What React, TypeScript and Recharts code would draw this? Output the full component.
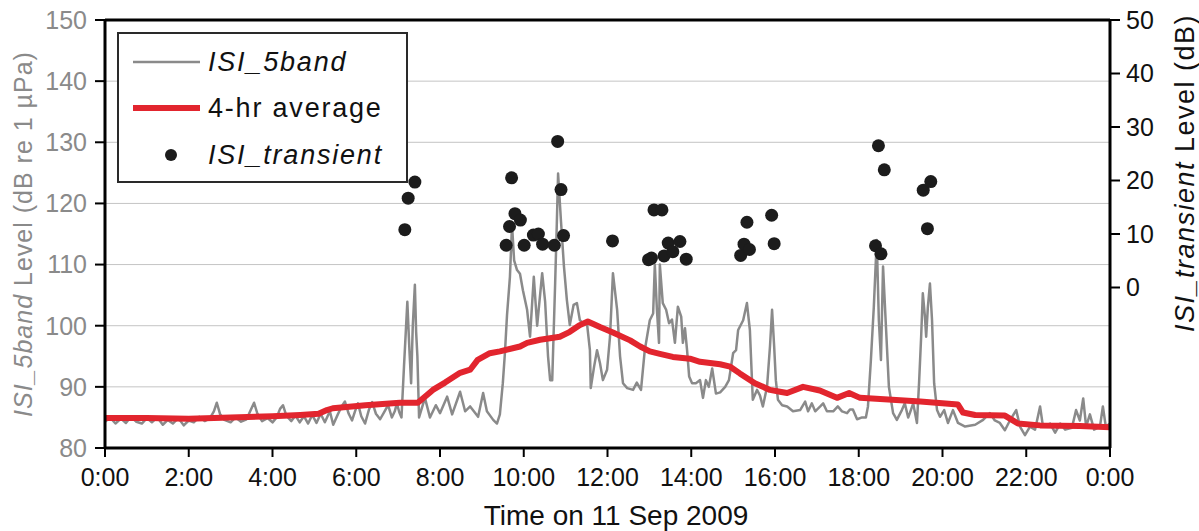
import React from 'react';
import {
  ComposedChart,
  Line,
  Scatter,
  XAxis,
  YAxis,
  CartesianGrid,
  ReferenceLine,
  Legend,
  Label,
} from 'recharts';

const FONT = '"Liberation Sans", Arial, Helvetica, sans-serif';
const GRAY = '#8a8a8a';
const RED = '#e2252e';
const DOT = '#1c1c1c';

// ISI_5band level (dB re 1 µPa) over the day, hours since midnight
const bandHours = [
  0.0, 0.12, 0.25, 0.38, 0.5, 0.62, 0.75, 0.88, 1.0, 1.12, 1.25, 1.38, 1.5, 1.62, 1.75, 1.88,
  2.0, 2.12, 2.25, 2.38, 2.5, 2.6, 2.67, 2.75, 2.85, 3.0, 3.12, 3.25, 3.38, 3.48, 3.56, 3.64,
  3.75, 3.88, 4.0, 4.1, 4.18, 4.25, 4.33, 4.45, 4.55, 4.65, 4.75, 4.85, 4.95, 5.05, 5.15, 5.25,
  5.37, 5.45, 5.56, 5.65, 5.73, 5.82, 5.9, 5.97, 6.04, 6.12, 6.21, 6.3, 6.38, 6.47, 6.57, 6.66,
  6.76, 6.85, 6.92, 6.97, 7.03, 7.08, 7.14, 7.22, 7.27, 7.31, 7.35, 7.4, 7.43, 7.46, 7.5, 7.64,
  7.76, 7.9, 8.0, 8.17, 8.29, 8.48, 8.6, 8.72, 8.91, 9.03, 9.12, 9.27, 9.36, 9.43, 9.5, 9.55,
  9.6, 9.67, 9.72, 9.77, 9.84, 9.91, 9.98, 10.08, 10.15, 10.24, 10.32, 10.44, 10.51, 10.58, 10.63, 10.68,
  10.75, 10.79, 10.82, 10.89, 10.96, 11.03, 11.1, 11.19, 11.27, 11.34, 11.44, 11.51, 11.58, 11.6, 11.68, 11.75,
  11.82, 11.89, 11.99, 12.06, 12.13, 12.23, 12.3, 12.37, 12.47, 12.61, 12.7, 12.8, 12.89, 13.01, 13.09, 13.13,
  13.18, 13.23, 13.25, 13.32, 13.4, 13.47, 13.54, 13.61, 13.68, 13.76, 13.8, 13.85, 13.9, 13.95, 14.02, 14.11,
  14.21, 14.28, 14.35, 14.42, 14.5, 14.59, 14.69, 14.81, 14.9, 15.0, 15.07, 15.12, 15.24, 15.33, 15.4, 15.47,
  15.57, 15.64, 15.71, 15.81, 15.88, 15.93, 15.98, 16.02, 16.07, 16.17, 16.29, 16.43, 16.6, 16.72, 16.79, 16.88,
  16.96, 17.08, 17.15, 17.24, 17.39, 17.5, 17.6, 17.72, 17.79, 17.86, 17.96, 18.08, 18.17, 18.22, 18.29, 18.36,
  18.43, 18.48, 18.53, 18.58, 18.65, 18.72, 18.82, 18.91, 19.03, 19.1, 19.18, 19.22, 19.3, 19.39, 19.44, 19.49,
  19.53, 19.58, 19.61, 19.65, 19.7, 19.75, 19.8, 19.87, 19.94, 20.04, 20.13, 20.25, 20.37, 20.54, 20.78, 20.97,
  21.13, 21.25, 21.37, 21.49, 21.61, 21.76, 21.85, 21.97, 22.09, 22.21, 22.33, 22.4, 22.57, 22.69, 22.81, 22.93,
  23.09, 23.19, 23.28, 23.36, 23.43, 23.52, 23.62, 23.76, 23.83, 23.9, 24.0,
];
const bandLevels = [
  84.3, 85.0, 84.0, 84.8, 84.1, 85.1, 84.3, 84.0, 84.9, 84.2, 85.0, 83.8, 84.6, 84.0, 84.9, 83.7,
  84.5, 84.2, 85.1, 84.4, 84.8, 86.0, 87.4, 85.5, 84.6, 84.2, 85.0, 84.3, 84.7, 86.2, 87.4, 85.6,
  84.4, 84.9, 84.2, 85.0, 86.4, 87.0, 85.3, 84.4, 85.3, 84.2, 85.2, 84.0, 85.4, 84.1, 85.6, 84.2,
  86.0, 83.8, 85.5, 86.8, 87.6, 85.6, 84.5, 86.0, 87.3, 85.2, 84.0, 86.2, 87.5, 85.6, 84.7, 85.8,
  87.0, 85.0, 86.0, 87.3, 85.8, 85.0, 93.3, 103.9, 96.0, 90.6, 100.0, 106.7, 99.0, 95.0, 85.0, 88.2,
  85.0, 87.0, 85.7, 88.4, 85.5, 89.2, 86.0, 86.8, 85.1, 89.0, 86.0, 84.6, 84.0, 85.5, 90.6, 95.5,
  101.7, 108.0, 116.5, 110.7, 109.1, 108.5, 105.8, 102.6, 98.2, 108.0, 100.0, 108.6, 104.0, 95.0, 91.1, 91.1,
  107.0, 116.8, 124.9, 117.0, 109.7, 104.2, 100.1, 103.4, 103.7, 100.9, 100.2, 100.4, 96.0, 89.8, 93.3, 96.0,
  93.9, 91.1, 92.8, 98.2, 108.6, 102.6, 95.0, 90.6, 89.8, 89.5, 90.7, 89.5, 96.0, 100.9, 102.0, 110.0,
  102.6, 97.2, 110.0, 103.7, 102.6, 100.4, 101.0, 97.2, 103.1, 101.5, 97.2, 99.6, 96.0, 91.7, 90.6, 90.6,
  91.1, 88.2, 91.1, 90.0, 93.0, 88.9, 89.1, 90.0, 91.1, 95.5, 96.0, 99.3, 100.9, 103.7, 99.3, 87.9,
  89.5, 88.6, 86.8, 90.0, 96.6, 102.6, 96.6, 91.1, 87.9, 87.0, 86.8, 86.0, 86.2, 87.6, 86.0, 87.3,
  86.0, 86.8, 87.3, 86.0, 86.0, 86.8, 86.0, 85.7, 86.3, 86.3, 84.7, 85.0, 85.0, 86.8, 94.4, 103.1,
  114.0, 100.9, 94.4, 109.7, 99.8, 90.0, 85.7, 84.6, 86.2, 87.3, 85.0, 85.7, 87.3, 84.1, 90.6, 98.2,
  105.3, 101.5, 98.2, 103.0, 106.9, 100.9, 90.6, 86.2, 85.1, 86.2, 84.1, 86.2, 84.1, 83.5, 83.8, 84.6,
  85.7, 84.5, 84.1, 82.9, 84.5, 86.2, 83.5, 82.1, 83.5, 83.0, 86.8, 83.5, 84.0, 82.5, 84.0, 83.0,
  83.3, 86.2, 84.5, 88.1, 83.5, 85.5, 83.0, 83.5, 86.8, 83.5, 84.0,
];

// 4-hr running average of ISI_5band
const avgHours = [
  0.0, 1.0, 2.0, 3.0, 4.0, 4.66, 5.1, 5.3, 5.44, 6.22, 7.04, 7.47, 7.83, 8.12, 8.48, 8.72,
  8.9, 9.19, 9.43, 9.91, 10.08, 10.39, 10.86, 11.1, 11.34, 11.53, 11.82, 12.13, 12.54, 12.78, 13.01, 13.25,
  13.56, 13.97, 14.21, 14.69, 14.93, 15.16, 15.52, 15.88, 16.12, 16.29, 16.67, 17.07, 17.48, 17.77, 18.03, 18.51,
  19.47, 20.37, 20.49, 20.78, 21.49, 21.8, 22.33, 23.28, 24.0,
];
const avgLevels = [
  84.9, 84.9, 84.8, 85.0, 85.2, 85.4, 85.6, 86.2, 86.5, 87.0, 87.4, 87.4, 89.5, 90.7, 92.3, 92.8,
  94.4, 95.5, 95.8, 96.6, 97.2, 97.7, 98.2, 99.0, 100.1, 100.7, 99.8, 98.9, 97.6, 96.6, 95.8, 95.4,
  94.9, 94.6, 94.1, 93.7, 93.3, 92.2, 90.6, 89.5, 89.2, 89.0, 90.0, 89.4, 88.2, 89.0, 88.2, 88.0,
  87.6, 87.1, 85.8, 85.4, 85.3, 84.0, 83.7, 83.6, 83.4,
];

// ISI_transient events (dB, right axis)
const transientHours = [
  7.16, 7.24, 7.4, 9.58, 9.66, 9.71, 9.79, 9.92, 10.01, 10.23, 10.35, 10.45, 10.73, 10.81, 10.89, 10.95,
  12.12, 12.98, 13.05, 13.11, 13.3, 13.35, 13.45, 13.56, 13.73, 13.88, 15.18, 15.26, 15.33, 15.39, 15.92, 15.98,
  18.4, 18.47, 18.53, 18.61, 19.54, 19.64, 19.72,
];
const transientLevels = [
  10.8, 16.7, 19.7, 7.9, 11.4, 20.5, 13.8, 12.6, 7.9, 9.8, 10.0, 8.1, 7.9, 27.3, 18.3, 9.7,
  8.7, 5.2, 5.5, 14.5, 14.5, 5.9, 8.3, 6.7, 8.6, 5.3, 6.0, 8.1, 12.2, 7.1, 13.5, 8.2,
  7.8, 26.5, 6.3, 22.0, 18.2, 11.0, 19.8,
];

const hourTicks = [0, 2, 4, 6, 8, 10, 12, 14, 16, 18, 20, 22, 24];
const levelTicks = [80, 90, 100, 110, 120, 130, 140, 150];
const transientTicks = [0, 10, 20, 30, 40, 50];

const bandData = bandHours.map((h, i) => ({ h, v: bandLevels[i] }));
const avgData = avgHours.map((h, i) => ({ h, v: avgLevels[i] }));
const transientData = transientHours.map((h, i) => ({ h, v: transientLevels[i] }));

const LeftTitle = (props: any) => {
  const vb = props.viewBox || { x: 0, y: 20, width: 105, height: 428 };
  const cx = vb.x + 23;
  const cy = vb.y + vb.height / 2;
  return (
    <text
      x={cx}
      y={cy}
      transform={`rotate(-90 ${cx} ${cy})`}
      textAnchor="middle"
      dominantBaseline="central"
      fill={GRAY}
      fontSize={25}
      fontFamily={FONT}
      letterSpacing={1}
    >
      <tspan fontStyle="italic">ISI_5band</tspan> Level (dB re 1 µPa)
    </text>
  );
};

const RightTitle = (props: any) => {
  const vb = props.viewBox || { x: 1110, y: 20, width: 89, height: 428 };
  const cx = vb.x + 75;
  const cy = 173;
  return (
    <text
      x={cx}
      y={cy}
      transform={`rotate(-90 ${cx} ${cy})`}
      textAnchor="middle"
      dominantBaseline="central"
      fill="#111"
      fontSize={27}
      fontFamily={FONT}
      letterSpacing={1.5}
    >
      <tspan fontStyle="italic">ISI_transient</tspan> Level (dB)
    </text>
  );
};

const BottomTitle = (props: any) => {
  const vb = props.viewBox || { x: 105, y: 448, width: 1005, height: 83 };
  return (
    <text
      x={616}
      y={vb.y + 77}
      textAnchor="middle"
      fill="#111"
      fontSize={28}
      fontFamily={FONT}
    >
      Time on 11 Sep 2009
    </text>
  );
};

const LegendBox = () => (
  <svg width={291} height={151} style={{ display: 'block' }}>
    <rect x={1} y={1} width={289} height={149} fill="#fff" stroke="#2a2a2a" strokeWidth={2} />
    <line x1={16} x2={83} y1={30} y2={30} stroke={GRAY} strokeWidth={2.5} />
    <line x1={16} x2={83} y1={76} y2={76} stroke={RED} strokeWidth={6} />
    <circle cx={54} cy={123} r={6} fill={DOT} />
    <g fontFamily={FONT} fontSize={27} fill="#111" letterSpacing={1.8}>
      <text x={91} y={30} dominantBaseline="central" fontStyle="italic">ISI_5band</text>
      <text x={91} y={76} dominantBaseline="central">4-hr average</text>
      <text x={91} y={123} dominantBaseline="central" fontStyle="italic">ISI_transient</text>
    </g>
  </svg>
);

const TransientDot = (p: any) => <circle cx={p.cx} cy={p.cy} r={6.5} fill={DOT} />;

export default function App() {
  return (
    <div style={{ position: 'absolute', left: 0, top: 0, background: '#fff' }}>
      <ComposedChart
        width={1199}
        height={531}
        margin={{ top: 20, right: 0, bottom: 0, left: 0 }}
        style={{ fontFamily: FONT }}
      >
        <CartesianGrid
          yAxisId="left"
          vertical={false}
          stroke="#c4c4c4"
          strokeWidth={1}
        />
        <XAxis
          xAxisId={0}
          type="number"
          dataKey="h"
          domain={[0, 24]}
          ticks={hourTicks}
          allowDataOverflow
          tickFormatter={(h: number) => `${h % 24}:00`}
          height={83}
          axisLine={{ stroke: '#000', strokeWidth: 3 }}
          tickLine={{ stroke: '#000', strokeWidth: 2 }}
          tickSize={9}
          tickMargin={11}
          tick={{ fill: '#111', fontSize: 25, fontFamily: FONT }}
        >
          <Label content={BottomTitle} />
        </XAxis>
        <YAxis
          yAxisId="left"
          type="number"
          domain={[80, 150]}
          ticks={levelTicks}
          allowDataOverflow
          width={105}
          axisLine={{ stroke: '#000', strokeWidth: 3 }}
          tickLine={{ stroke: '#000', strokeWidth: 2 }}
          tickSize={10}
          tickMargin={8}
          tick={{ fill: GRAY, fontSize: 25, fontFamily: FONT }}
        >
          <Label content={LeftTitle} />
        </YAxis>
        <YAxis
          yAxisId="right"
          orientation="right"
          type="number"
          domain={[-30, 50]}
          ticks={transientTicks}
          allowDataOverflow
          width={89}
          axisLine={{ stroke: '#000', strokeWidth: 3 }}
          tickLine={{ stroke: '#000', strokeWidth: 2 }}
          tickSize={10}
          tickMargin={6}
          tick={{ fill: '#111', fontSize: 25, fontFamily: FONT }}
        >
          <Label content={RightTitle} />
        </YAxis>
        <ReferenceLine yAxisId="left" y={150} stroke="#000" strokeWidth={3} ifOverflow="visible" />
        <Line
          yAxisId="left"
          data={bandData}
          dataKey="v"
          type="linear"
          stroke={GRAY}
          strokeWidth={2.5}
          dot={false}
          activeDot={false}
          strokeLinejoin="round"
          isAnimationActive={false}
        />
        <Line
          yAxisId="left"
          data={avgData}
          dataKey="v"
          type="linear"
          stroke={RED}
          strokeWidth={6}
          dot={false}
          activeDot={false}
          strokeLinejoin="round"
          isAnimationActive={false}
        />
        <Scatter
          yAxisId="right"
          data={transientData}
          dataKey="v"
          shape={TransientDot}
          isAnimationActive={false}
        />
        <Legend
          layout="horizontal"
          verticalAlign="middle"
          align="center"
          content={LegendBox}
          wrapperStyle={{ left: 117, top: 32, width: 291, height: 151 }}
        />
      </ComposedChart>
    </div>
  );
}
